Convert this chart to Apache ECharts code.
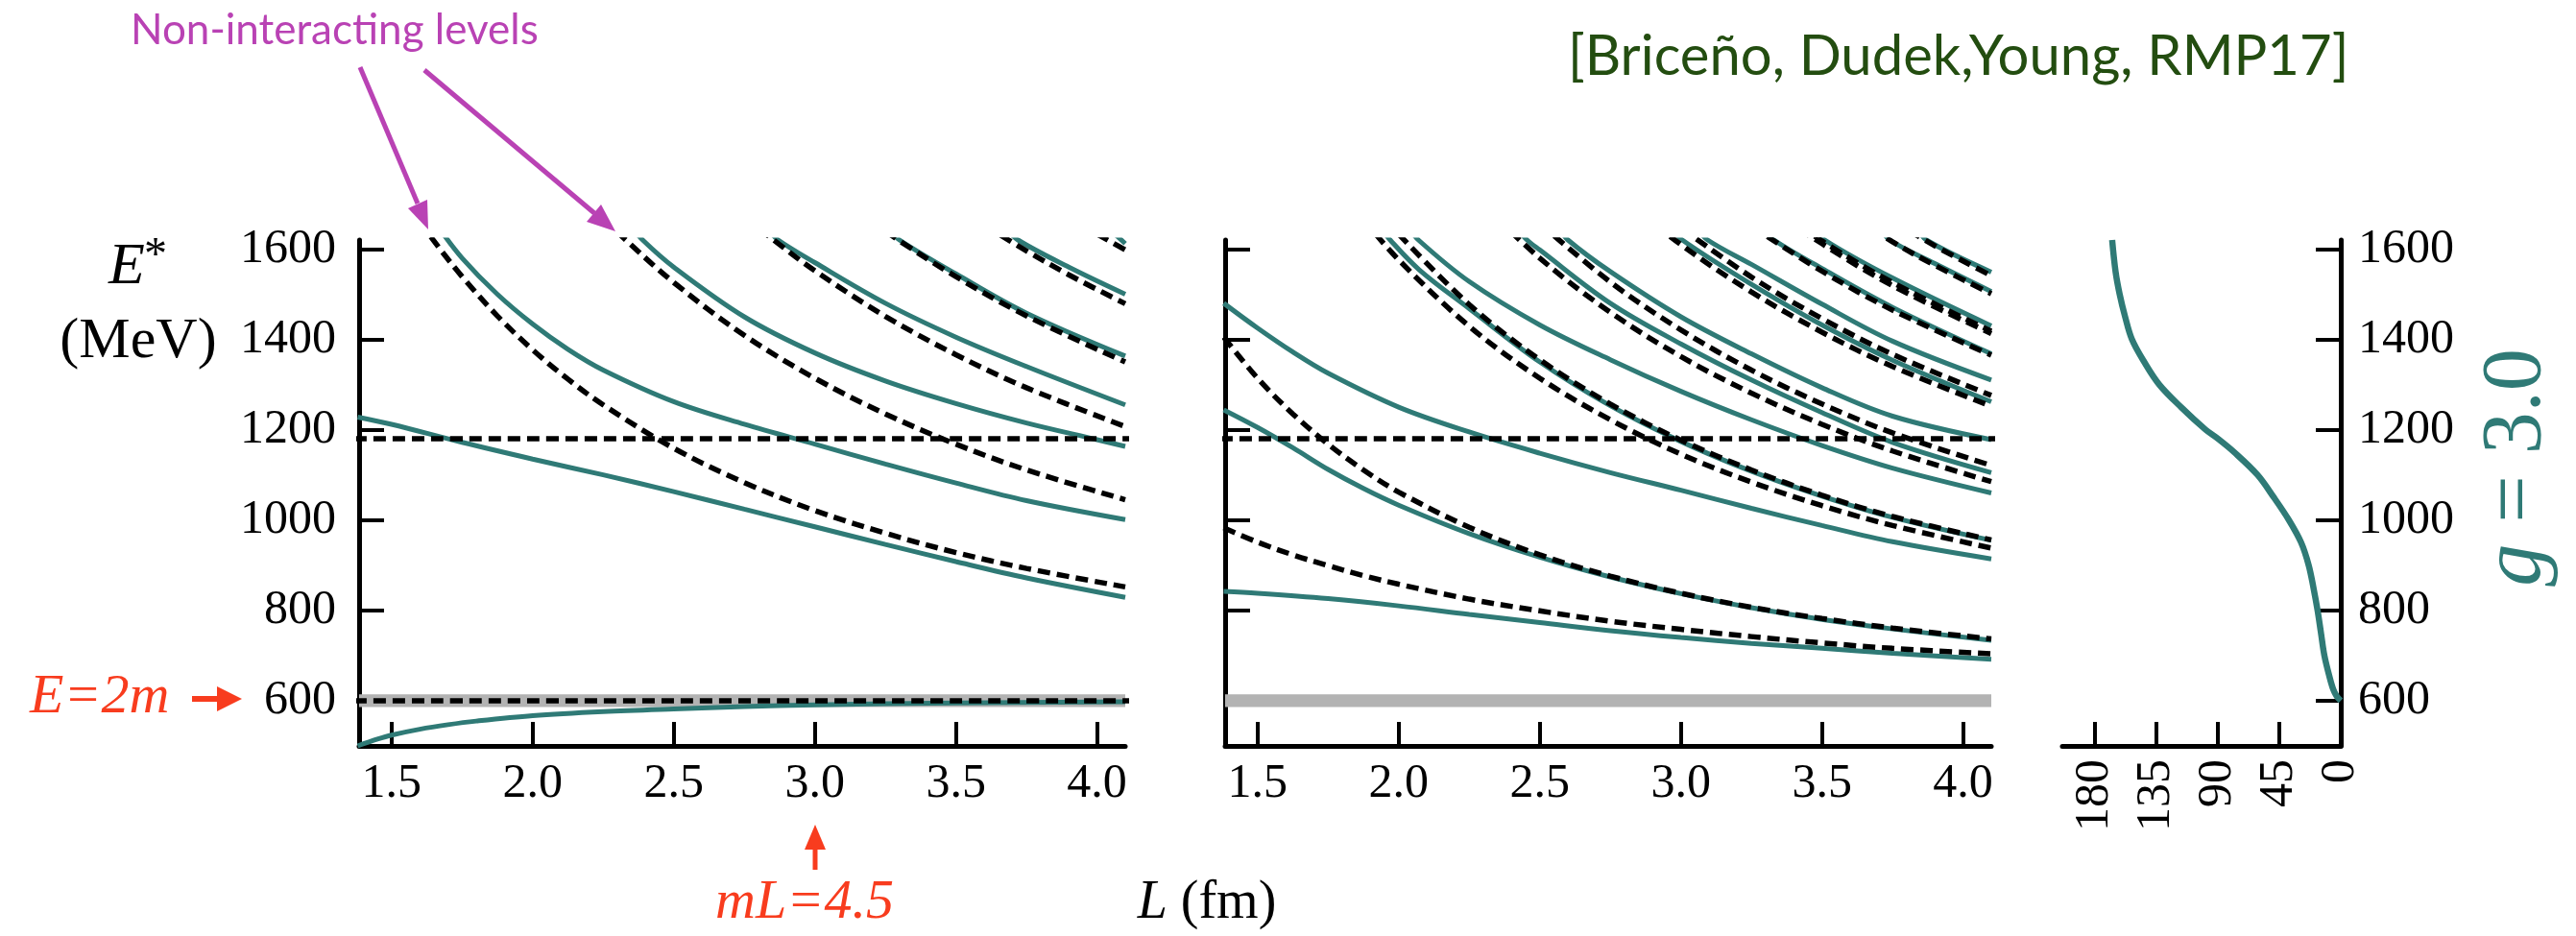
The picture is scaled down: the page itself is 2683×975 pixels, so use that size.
<!DOCTYPE html>
<html lang="en">
	<head>
		<meta charset="utf-8">
		<title>Finite-volume levels, g = 3.0</title>
		<style>
			html, body { margin: 0; padding: 0; background: #fff; }
		</style>
	</head>
	<body>
		<!-- chart container, same size as the reference -->
		<div id="main" style="width: 2683px; height: 975px;"></div>

		<script src="https://cdn.jsdelivr.net/npm/echarts@6/dist/echarts.min.js"></script>
		<script>
			// ---- tick values ----
			var xTicksL = [1.5, 2.0, 2.5, 3.0, 3.5, 4.0];
			var yTicksE = [600, 800, 1000, 1200, 1400, 1600];
			var xTicksPhase = [0, 45, 90, 135, 180];

			// ---- reference lines ----
			var thresholdE = 600;      // E = 2m
			var resonanceE = 1180;     // bare resonance (dashed horizontal)

			// ---- left panel: rest frame, non-interacting levels [L (fm), E* (MeV)] ----
			var restFree1 = [[1.6, 1662], [1.65, 1618], [1.75, 1539], [1.875, 1452], [2.0, 1377], [2.125, 1312], [2.25, 1255], [2.5, 1159], [2.75, 1083], [3.0, 1021], [3.25, 971], [3.5, 928], [3.75, 893], [4.1, 852]];
			var restFree2 = [[2.25, 1670], [2.32, 1626], [2.5, 1526], [2.75, 1409], [3.0, 1314], [3.25, 1235], [3.5, 1168], [3.75, 1111], [4.1, 1045]];
			var restFree3 = [[2.75, 1673], [2.85, 1622], [3.0, 1552], [3.25, 1451], [3.5, 1366], [3.75, 1293], [4.1, 1207]];
			var restFree4 = [[3.25, 1640], [3.3, 1618], [3.5, 1539], [3.75, 1452], [4.1, 1350]];
			var restFree5 = [[3.6, 1653], [3.75, 1596], [3.9, 1543], [4.1, 1479]];
			var restFree6 = [[4.0, 1633], [4.1, 1598]];

			// ---- left panel: interacting levels ----
			var restLevel1 = [[1.38, 500], [1.45, 515], [1.5, 524], [1.6, 537], [1.7, 547], [1.8, 555], [2.0, 567], [2.25, 576], [2.5, 582], [2.75, 587], [3.0, 591], [3.5, 595], [4.1, 598]];
			var restLevel2 = [[1.38, 1228], [1.5, 1212], [1.75, 1172], [2.0, 1135], [2.25, 1100], [2.5, 1063], [2.75, 1024], [3.0, 985], [3.25, 946], [3.5, 908], [3.75, 872], [4.1, 829]];
			var restLevel3 = [[1.67, 1645], [1.75, 1580], [1.875, 1500], [2.0, 1434], [2.125, 1378], [2.25, 1332], [2.5, 1262], [2.75, 1212], [3.0, 1168], [3.25, 1124], [3.5, 1082], [3.75, 1043], [4.1, 1001]];
			var restLevel4 = [[2.35, 1650], [2.39, 1620], [2.5, 1560], [2.75, 1450], [3.0, 1370], [3.25, 1308], [3.5, 1258], [3.75, 1215], [4.0, 1178], [4.1, 1163]];
			var restLevel5 = [[2.84, 1640], [2.87, 1620], [3.0, 1570], [3.25, 1480], [3.5, 1405], [3.75, 1340], [4.1, 1255]];
			var restLevel6 = [[3.27, 1640], [3.3, 1620], [3.5, 1545], [3.75, 1458], [4.1, 1363]];
			var restLevel7 = [[3.68, 1645], [3.72, 1620], [3.9, 1560], [4.1, 1500]];
			var restLevel8 = [[4.06, 1635], [4.1, 1612]];

			// ---- middle panel: moving frame, non-interacting levels ----
			var movFree02 = [[1.38, 983], [1.5, 951], [1.625, 923], [1.75, 899], [1.875, 877], [2.0, 858], [2.25, 825], [2.5, 799], [2.75, 776], [3.0, 758], [3.25, 742], [3.5, 728], [3.75, 716], [4.1, 704]];
			var movFree11 = [[1.38, 1405], [1.5, 1314], [1.625, 1235], [1.75, 1168], [1.875, 1111], [2.0, 1062], [2.25, 984], [2.5, 923], [2.75, 876], [3.0, 838], [3.25, 807], [3.5, 782], [3.75, 761], [4.1, 737]];
			var movFree13 = [[1.875, 1666], [2.0, 1576], [2.25, 1429], [2.5, 1314], [2.75, 1222], [3.0, 1146], [3.25, 1084], [3.5, 1032], [3.75, 988], [4.1, 938]];
			var movFree22 = [[2.0, 1633], [2.25, 1477], [2.5, 1355], [2.75, 1257], [3.0, 1177], [3.25, 1111], [3.5, 1055], [3.75, 1008], [4.1, 956]];
			var movFree15 = [[2.25, 1728], [2.5, 1580], [2.75, 1460], [3.0, 1362], [3.25, 1281], [3.5, 1212], [3.75, 1153], [4.1, 1085]];
			var movFree24 = [[2.5, 1657], [2.75, 1527], [3.0, 1421], [3.25, 1332], [3.5, 1257], [3.75, 1193], [4.1, 1121]];
			var movFree26 = [[2.75, 1735], [3.0, 1610], [3.25, 1505], [3.5, 1416], [3.75, 1340], [4.1, 1252]];
			var movFree35 = [[3.0, 1647], [3.25, 1538], [3.5, 1446], [3.75, 1367], [4.1, 1276]];
			var movFree28 = [[3.25, 1651], [3.5, 1551], [3.75, 1465], [4.1, 1365]];
			var movFree46 = [[3.25, 1718], [3.5, 1612], [3.75, 1519], [4.1, 1413]];
			var movFree55 = [[3.25, 1726], [3.5, 1618], [3.75, 1526], [4.1, 1418]];
			var movFree39 = [[3.5, 1716], [3.75, 1616], [3.9, 1564], [4.1, 1501]];
			var movFree66 = [[3.75, 1663], [3.9, 1607], [4.1, 1541]];

			// ---- middle panel: interacting levels ----
			var movLevel1 = [[1.38, 842], [1.5, 838], [1.75, 826], [2.0, 810], [2.25, 791], [2.5, 773], [2.75, 755], [3.0, 740], [3.25, 727], [3.5, 716], [3.75, 705], [4.1, 692]];
			var movLevel2 = [[1.38, 1244], [1.5, 1205], [1.625, 1160], [1.75, 1112], [1.875, 1070], [2.0, 1033], [2.25, 970], [2.5, 918], [2.75, 874], [3.0, 837], [3.25, 806], [3.5, 780], [3.75, 759], [4.1, 734]];
			var movLevel3 = [[1.38, 1480], [1.5, 1425], [1.625, 1372], [1.75, 1325], [2.0, 1250], [2.25, 1195], [2.5, 1148], [2.75, 1105], [3.0, 1066], [3.25, 1026], [3.5, 988], [3.75, 952], [4.1, 914]];
			var movLevel4 = [[1.94, 1645], [1.97, 1620], [2.073, 1554], [2.25, 1468], [2.5, 1350], [2.75, 1253], [3.0, 1174], [3.25, 1108], [3.5, 1053], [3.75, 1006], [4.1, 955]];
			var movLevel5 = [[2.04, 1645], [2.07, 1620], [2.25, 1528], [2.5, 1432], [2.75, 1355], [3.0, 1285], [3.25, 1222], [3.5, 1165], [3.75, 1115], [4.1, 1060]];
			var movLevel6 = [[2.42, 1645], [2.455, 1620], [2.5, 1598], [2.75, 1480], [3.0, 1390], [3.25, 1310], [3.5, 1238], [3.75, 1172], [4.1, 1105]];
			var movLevel7 = [[2.57, 1645], [2.6, 1620], [2.75, 1550], [3.0, 1450], [3.25, 1368], [3.5, 1293], [3.75, 1230], [4.1, 1178]];
			var movLevel8 = [[2.97, 1645], [3.005, 1620], [3.25, 1522], [3.5, 1432], [3.75, 1354], [4.1, 1262]];
			var movLevel9 = [[3.06, 1645], [3.095, 1620], [3.25, 1566], [3.5, 1478], [3.75, 1396], [4.1, 1310]];
			var movLevel10 = [[3.29, 1645], [3.33, 1620], [3.5, 1557], [3.75, 1471], [4.1, 1368]];
			var movLevel11 = [[3.48, 1645], [3.51, 1620], [3.75, 1536], [4.1, 1430]];
			var movLevel12 = [[3.71, 1645], [3.74, 1620], [3.9, 1568], [4.1, 1506]];
			var movLevel13 = [[3.84, 1645], [3.87, 1620], [4.1, 1549]];

			// ---- right panel: phase shift (degrees) against E* ----
			var phaseE = [600, 610, 625, 650, 700, 750, 800, 850, 900, 950, 1000, 1050, 1100, 1150, 1180, 1200, 1250, 1300, 1350, 1400, 1450, 1500, 1550, 1620];
			var phaseDelta = [0, 3, 5.5, 8, 12, 14.5, 17, 20, 23.5, 29, 38, 49, 61, 78, 90, 99, 117, 133, 144, 153, 158, 162, 165, 167.5];

			var teal = '#2f7a76';
			var red = '#f83c1e';
			var magenta = '#b942b4';
			var serif = '"Liberation Serif", "Times New Roman", serif';

			var myChart = echarts.init(document.getElementById('main'), null, { renderer: 'canvas' });

			function curve(data, idx, dashed) {
				return {
					type: 'line',
					xAxisIndex: idx,
					yAxisIndex: idx,
					data: data,
					smooth: 0.35,
					showSymbol: false,
					silent: true,
					z: dashed ? 4 : 3,
					lineStyle: dashed ? { color: '#000', width: 5.5, type: [13, 7] } : { color: teal, width: 5 }
				};
			}

			function hline(value, idx) {
				return curve([[1.3, value], [4.2, value]], idx, true);
			}

			function band(idx) {
				return {
					type: 'line', xAxisIndex: idx, yAxisIndex: idx, data: [], z: 1, silent: true,
					markArea: {
						silent: true,
						itemStyle: { color: '#b3b3b3' },
						data: [[{ yAxis: thresholdE - 14 }, { yAxis: thresholdE + 14 }]]
					}
				};
			}

			function xAxisL(gi) {
				return {
					type: 'value', gridIndex: gi, min: 1.385, max: 4.1,
					axisLine: { onZero: false, lineStyle: { color: '#000', width: 5 } },
					axisTick: { inside: true, length: 25, customValues: xTicksL, lineStyle: { color: '#000', width: 4 } },
					axisLabel: { customValues: xTicksL, formatter: function (v) { return v.toFixed(1); }, color: '#000', fontFamily: serif, fontSize: 50, margin: 15 },
					splitLine: { show: false }
				};
			}

			function yAxisE(gi, pos, showLabel) {
				return {
					type: 'value', gridIndex: gi, min: 500, max: 1620, position: pos,
					axisLine: { onZero: false, lineStyle: { color: '#000', width: 5 } },
					axisTick: { inside: true, length: 26, customValues: yTicksE, lineStyle: { color: '#000', width: 4 } },
					axisLabel: {
						show: showLabel, customValues: yTicksE, formatter: function (v) { return String(v); },
						color: '#000', fontFamily: serif, fontSize: 50, margin: pos === 'left' ? 24 : 18
					},
					splitLine: { show: false }
				};
			}

			var series = [
				band(0), band(1),
				curve(restLevel1, 0), curve(restLevel2, 0), curve(restLevel3, 0), curve(restLevel4, 0),
				curve(restLevel5, 0), curve(restLevel6, 0), curve(restLevel7, 0), curve(restLevel8, 0),
				curve(restFree1, 0, true), curve(restFree2, 0, true), curve(restFree3, 0, true),
				curve(restFree4, 0, true), curve(restFree5, 0, true), curve(restFree6, 0, true),
				hline(resonanceE, 0), hline(thresholdE, 0),

				curve(movLevel1, 1), curve(movLevel2, 1), curve(movLevel3, 1), curve(movLevel4, 1),
				curve(movLevel5, 1), curve(movLevel6, 1), curve(movLevel7, 1), curve(movLevel8, 1),
				curve(movLevel9, 1), curve(movLevel10, 1), curve(movLevel11, 1), curve(movLevel12, 1),
				curve(movLevel13, 1),
				curve(movFree02, 1, true), curve(movFree11, 1, true), curve(movFree13, 1, true),
				curve(movFree22, 1, true), curve(movFree15, 1, true), curve(movFree24, 1, true),
				curve(movFree26, 1, true), curve(movFree35, 1, true), curve(movFree28, 1, true),
				curve(movFree46, 1, true), curve(movFree55, 1, true), curve(movFree39, 1, true),
				curve(movFree66, 1, true),
				hline(resonanceE, 1),

				{
					type: 'line', xAxisIndex: 2, yAxisIndex: 2, silent: true, showSymbol: false,
					smooth: 0.35, z: 3,
					data: phaseE.map(function (e, i) { return [phaseDelta[i], e]; }),
					lineStyle: { color: teal, width: 6.5 }
				}
			];

			option = {
				animation: false,
				backgroundColor: '#fff',
				grid: [
					{ left: 374, top: 250, width: 798, height: 527 },
					{ left: 1276, top: 250, width: 798, height: 527 },
					{ left: 2148, top: 250, width: 290, height: 527 }
				],
				xAxis: [
					xAxisL(0),
					xAxisL(1),
					{
						type: 'value', gridIndex: 2, min: 0, max: 204, inverse: true,
						axisLine: { onZero: false, lineStyle: { color: '#000', width: 5 } },
						axisTick: { inside: true, length: 25, customValues: xTicksPhase, lineStyle: { color: '#000', width: 4 } },
						axisLabel: { customValues: xTicksPhase, rotate: 90, color: '#000', fontFamily: serif, fontSize: 50, margin: 14 },
						splitLine: { show: false }
					}
				],
				yAxis: [
					yAxisE(0, 'left', true),
					yAxisE(1, 'left', false),
					yAxisE(2, 'right', true)
				],
				series: series,
				graphic: [
					// axis title E* (MeV)
					{ type: 'text', x: 113, y: 279, style: { text: 'E', font: 'italic 62px ' + serif, fill: '#000', align: 'left', verticalAlign: 'middle' } },
					{ type: 'text', x: 150, y: 243, style: { text: '*', font: '48px ' + serif, fill: '#000', align: 'left', verticalAlign: 'top' } },
					{ type: 'text', x: 144, y: 356, style: { text: '(MeV)', font: '60px ' + serif, fill: '#000', align: 'center', verticalAlign: 'middle' } },
					// x axis title
					{
						type: 'text', x: 1257, y: 941,
						style: {
							text: '{i|L} (fm)', font: '56px ' + serif, fill: '#000', align: 'center', verticalAlign: 'middle',
							rich: { i: { fontStyle: 'italic', fontSize: 56, fontFamily: serif, fill: '#000' } }
						}
					},
					// threshold marker
					{ type: 'text', x: 31, y: 727, style: { text: 'E=2m', font: 'italic 58px ' + serif, fill: red, align: 'left', verticalAlign: 'middle' } },
					{ type: 'line', shape: { x1: 200, y1: 728, x2: 232, y2: 728 }, style: { stroke: red, lineWidth: 6 } },
					{ type: 'polygon', shape: { points: [[226, 715], [252, 728], [226, 741]] }, style: { fill: red } },
					// mL = 4.5 marker
					{ type: 'line', shape: { x1: 849, y1: 906, x2: 849, y2: 882 }, style: { stroke: red, lineWidth: 5 } },
					{ type: 'polygon', shape: { points: [[838, 885], [849, 859], [860, 885]] }, style: { fill: red } },
					{ type: 'text', x: 838, y: 941, style: { text: 'mL=4.5', font: 'italic 58px ' + serif, fill: red, align: 'center', verticalAlign: 'middle' } },
					// non-interacting annotation
					{ type: 'text', x: 136, y: 32, style: { text: 'Non-interacting levels', font: '44px Lato, "Open Sans", sans-serif', fill: magenta, align: 'left', verticalAlign: 'middle' } },
					{ type: 'line', shape: { x1: 375, y1: 70, x2: 435, y2: 212 }, style: { stroke: magenta, lineWidth: 5 } },
					{ type: 'polygon', shape: { points: [[425, 217], [446, 239], [445, 208]] }, style: { fill: magenta } },
					{ type: 'line', shape: { x1: 442, y1: 73, x2: 619, y2: 222 }, style: { stroke: magenta, lineWidth: 5 } },
					{ type: 'polygon', shape: { points: [[611, 231], [641, 241], [626, 213]] }, style: { fill: magenta } },
					// reference
					{ type: 'text', x: 1633, y: 59, style: { text: '[Briceño, Dudek,Young, RMP17]', font: '58px Lato, "Open Sans", sans-serif', fill: '#234d10', align: 'left', verticalAlign: 'middle' } },
					// coupling label, rotated
					{
						type: 'text', x: 2622, y: 487, rotation: Math.PI / 2,
						style: {
							text: '{i|g} = 3.0', font: '88px ' + serif, fill: teal, align: 'center', verticalAlign: 'middle',
							rich: { i: { fontStyle: 'italic', fontSize: 88, fontFamily: serif, fill: teal } }
						}
					}
				]
			};

			myChart.setOption(option);
		</script>
	</body>
</html>
